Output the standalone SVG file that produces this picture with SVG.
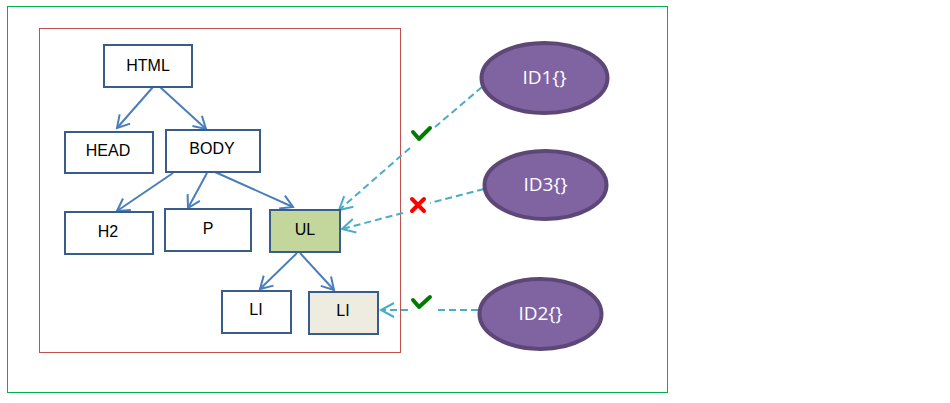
<svg xmlns="http://www.w3.org/2000/svg" width="950" height="403" viewBox="0 0 950 403">
<defs>
<style>
.box{fill:#fff;stroke:#385d8a;stroke-width:2}
.lbl{font-family:"Liberation Sans",Arial,sans-serif;font-size:16px;fill:#000;text-anchor:middle}
.tree{stroke:#4a7ebb;stroke-width:2;fill:none}
.dash{stroke:#4bacc6;stroke-width:2;fill:none;stroke-dasharray:7,4}
.ell{fill:#8064a2;stroke:#5c4776;stroke-width:4}
.elbl{font-family:"Open Sans","Liberation Sans",sans-serif;font-size:19px;fill:#fff;text-anchor:middle}
</style>
<marker id="ah" markerWidth="16" markerHeight="16" refX="14" refY="8" orient="auto" markerUnits="userSpaceOnUse">
<path d="M2,1 L14,8 L2,15" fill="none" stroke="#4a7ebb" stroke-width="2"/>
</marker>
<marker id="ahd" markerWidth="18" markerHeight="18" refX="15" refY="9" orient="auto" markerUnits="userSpaceOnUse">
<path d="M2,2 L15,9 L2,16" fill="none" stroke="#4bacc6" stroke-width="2"/>
</marker>
</defs>
<rect width="950" height="403" fill="#fff"/>
<rect x="7.5" y="6.5" width="660" height="386" fill="none" stroke="#00b050" stroke-width="1"/>
<rect x="39.5" y="28.5" width="361" height="324" fill="none" stroke="#c0504d" stroke-width="1"/>

<g id="connectors">
<line class="tree" x1="153" y1="87" x2="117" y2="128" marker-end="url(#ah)"/>
<line class="tree" x1="160" y1="87" x2="206" y2="129" marker-end="url(#ah)"/>
<line class="tree" x1="173" y1="173" x2="117" y2="211" marker-end="url(#ah)"/>
<line class="tree" x1="207" y1="173" x2="188" y2="208" marker-end="url(#ah)"/>
<line class="tree" x1="215" y1="172" x2="293" y2="207" marker-end="url(#ah)"/>
<line class="tree" x1="297" y1="253" x2="260" y2="289" marker-end="url(#ah)"/>
<line class="tree" x1="300" y1="253" x2="334" y2="290" marker-end="url(#ah)"/>
<line class="dash" x1="482" y1="87" x2="435" y2="127"/>
<line class="dash" x1="410" y1="148" x2="339" y2="210" marker-end="url(#ahd)"/>
<line class="dash" x1="484" y1="189" x2="430" y2="203"/>
<line class="dash" x1="403" y1="213" x2="342" y2="229" marker-end="url(#ahd)"/>
<line class="dash" x1="478" y1="310" x2="437" y2="310"/>
<line class="dash" x1="408" y1="310" x2="381" y2="310" marker-end="url(#ahd)"/>
<path d="M413,132 L419,139 L430,128" fill="none" stroke="#007a00" stroke-width="4" stroke-linecap="round" stroke-linejoin="round"/>
<path d="M413,300 L419,307 L430,297" fill="none" stroke="#007a00" stroke-width="4" stroke-linecap="round" stroke-linejoin="round"/>
<path d="M412,199 L424,211 M424,199 L412,211" fill="none" stroke="#ff0000" stroke-width="4" stroke-linecap="round"/>
</g>

<g id="html"><rect class="box" x="104" y="45" width="88" height="42"/><text class="lbl" x="148" y="71">HTML</text></g>
<g id="head"><rect class="box" x="65" y="132" width="88" height="41"/><text class="lbl" x="108" y="156">HEAD</text></g>
<g id="body"><rect class="box" x="166" y="130" width="94" height="42"/><text class="lbl" x="212" y="154">BODY</text></g>
<g id="h2"><rect class="box" x="65" y="212" width="88" height="42"/><text class="lbl" x="108" y="237">H2</text></g>
<g id="p"><rect class="box" x="165" y="209" width="86" height="42"/><text class="lbl" x="208" y="234">P</text></g>
<g id="ul"><rect class="box" x="270" y="210" width="70" height="42" style="fill:#c3d69b"/><text class="lbl" x="305" y="235">UL</text></g>
<g id="li1"><rect class="box" x="222" y="291" width="69" height="42"/><text class="lbl" x="256" y="315">LI</text></g>
<g id="li2"><rect class="box" x="309" y="292" width="69" height="42" style="fill:#eeece1"/><text class="lbl" x="343" y="316">LI</text></g>
<g id="id1"><ellipse class="ell" cx="544.5" cy="78" rx="63" ry="35"/><text class="elbl" x="544.5" y="84">ID1{}</text></g>
<g id="id3"><ellipse class="ell" cx="545.5" cy="185" rx="61" ry="34"/><text class="elbl" x="545.5" y="191">ID3{}</text></g>
<g id="id2"><ellipse class="ell" cx="540.5" cy="314" rx="61" ry="35"/><text class="elbl" x="540.5" y="320">ID2{}</text></g>
</svg>
